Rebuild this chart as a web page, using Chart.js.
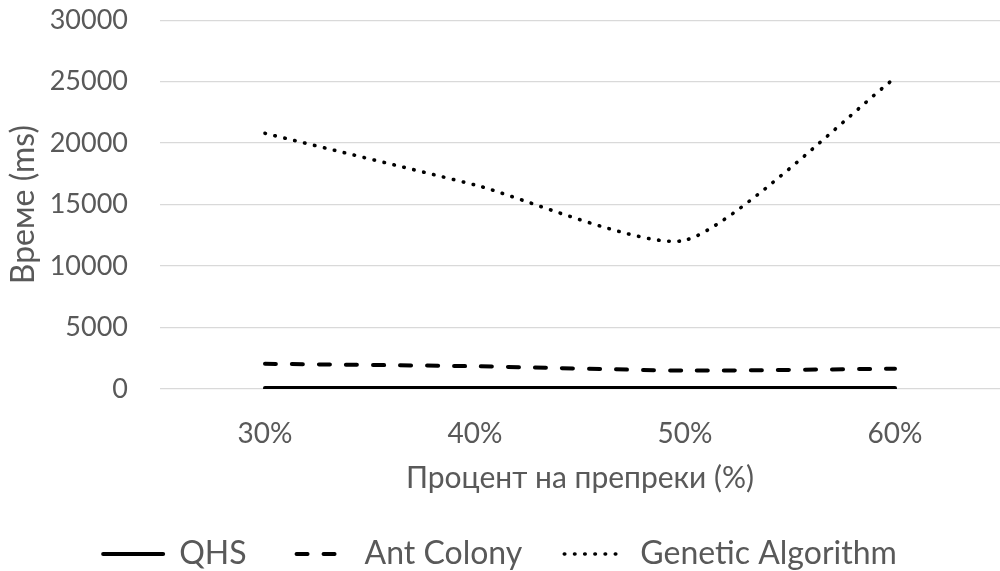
<!DOCTYPE html>
<html>
<head>
<meta charset="utf-8">
<script src="https://cdn.jsdelivr.net/npm/chart.js@4.4.1/dist/chart.umd.min.js"></script>
<style>
  html, body { margin: 0; padding: 0; background: #ffffff; }
  #wrap { width: 1000px; height: 571px; position: relative; }
</style>
</head>
<body>
<div id="wrap"><canvas id="chart"></canvas></div>
<script>
// Obstacle percentages on the x axis
const categories = ['30%', '40%', '50%', '60%'];

// Run time in milliseconds for each algorithm
const qhsTimes = [80, 80, 80, 80];
const antColonyTimes = [2050, 1850, 1500, 1650];
const geneticTimes = [20800, 16600, 12100, 25300];

// Y axis range
const yMin = 0;
const yMax = 30000;
const yStep = 5000;

const textColor = '#595959';
const gridColor = '#d9d9d9';
const fontFamily = 'Lato, "Open Sans", sans-serif';

// Legend entries drawn as short line samples in each series' own stroke style
function lineLegendLabels(chart) {
  return chart.data.datasets.map((ds, i) => ({
    text: ds.label,
    datasetIndex: i,
    hidden: false,
    fontColor: textColor,
    fillStyle: ds.borderColor,
    strokeStyle: ds.borderColor,
    lineWidth: ds.borderWidth,
    lineDash: ds.borderDash || [],
    lineDashOffset: ds.legendDashOffset || 0,
    lineCap: ds.borderCapStyle,
    pointStyle: 'line'
  }));
}

new Chart(document.getElementById('chart'), {
  type: 'line',
  data: {
    labels: categories,
    datasets: [
      {
        label: 'QHS',
        data: qhsTimes,
        borderColor: '#000000',
        backgroundColor: '#000000',
        borderWidth: 4,
        borderCapStyle: 'round',
        pointRadius: 0,
        tension: 0.2
      },
      {
        label: 'Ant Colony',
        data: antColonyTimes,
        borderColor: '#000000',
        backgroundColor: '#000000',
        borderWidth: 4,
        borderDash: [11, 16],
        legendDashOffset: 19,
        borderCapStyle: 'round',
        pointRadius: 0,
        tension: 0.2
      },
      {
        label: 'Genetic Algorithm',
        data: geneticTimes,
        borderColor: '#000000',
        backgroundColor: '#000000',
        borderWidth: 3.6,
        borderDash: [0.5, 9.7],
        borderCapStyle: 'round',
        pointRadius: 0,
        tension: 0.2
      }
    ]
  },
  options: {
    responsive: true,
    maintainAspectRatio: false,
    animation: false,
    layout: { padding: { top: 0, right: 0, bottom: -9, left: 0 } },
    plugins: {
      tooltip: { enabled: false },
      legend: {
        position: 'bottom',
        labels: {
          color: textColor,
          font: { family: fontFamily, size: 32 },
          usePointStyle: true,
          pointStyle: 'line',
          pointStyleWidth: 60,
          boxHeight: 30,
          padding: 42,
          generateLabels: lineLegendLabels
        }
      }
    },
    scales: {
      x: {
        offset: true,
        grid: { display: false, drawTicks: false },
        border: { display: false },
        ticks: {
          color: textColor,
          font: { family: fontFamily, size: 28 },
          padding: 28
        },
        title: {
          display: true,
          text: 'Процент на препреки (%)',
          color: textColor,
          font: { family: fontFamily, size: 30, lineHeight: 1 },
          padding: { top: 0, bottom: 3 }
        },
        afterFit(scale) { scale.height = 107; }
      },
      y: {
        min: yMin,
        max: yMax,
        grid: {
          color: gridColor,
          lineWidth: 1.3,
          drawTicks: true,
          tickLength: 28,
          tickColor: 'rgba(0,0,0,0)'
        },
        border: { display: false },
        ticks: {
          stepSize: yStep,
          color: textColor,
          font: { family: fontFamily, size: 27 },
          padding: 4,
          callback: (value) => String(value)
        },
        title: {
          display: true,
          text: 'Време (ms)',
          color: textColor,
          font: { family: fontFamily, size: 32 },
          padding: { top: 4, bottom: 0 }
        },
        afterFit(scale) { scale.width = 160; }
      }
    }
  }
});
</script>
</body>
</html>
